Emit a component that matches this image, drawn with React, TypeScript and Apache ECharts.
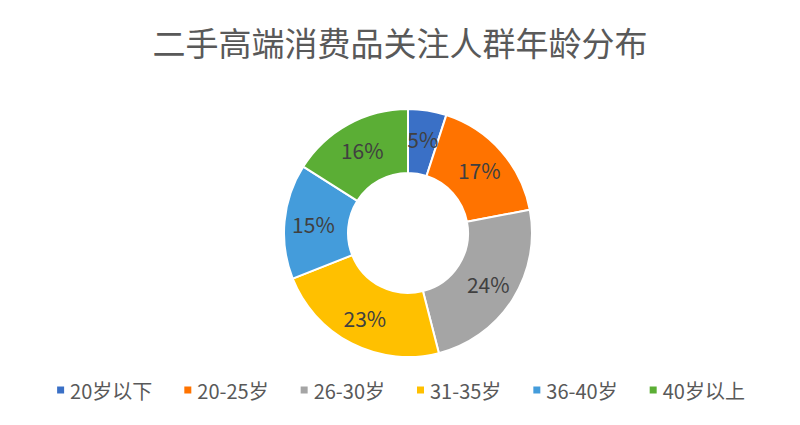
import { useEffect, useRef } from 'react';
import * as echarts from 'echarts';

const categories = ['20岁以下', '20-25岁', '26-30岁', '31-35岁', '36-40岁', '40岁以上'];
const values = [5, 17, 24, 23, 15, 16];
const colors = ['#3A70C6', '#FF7300', '#A5A5A5', '#FFC000', '#449CDB', '#5BAE35'];

export default function App() {
  const chartRef = useRef<HTMLDivElement>(null);

  useEffect(() => {
    if (!chartRef.current) return;
    const chart = echarts.init(chartRef.current, undefined, { renderer: 'svg' });
    const font = '"Noto Sans CJK SC", "Noto Sans", sans-serif';

    chart.setOption({
      animation: false,
      backgroundColor: '#fff',
      color: colors,
      title: {
        text: '二手高端消费品关注人群年龄分布',
        left: 'center',
        top: 12,
        textStyle: { fontSize: 33, fontWeight: 'normal', color: '#595959', fontFamily: font },
      },
      legend: {
        bottom: 12,
        left: 'center',
        icon: 'rect',
        itemWidth: 9,
        itemHeight: 9,
        itemGap: 30,
        textStyle: { fontSize: 20, color: '#595959', fontFamily: font },
        data: categories,
      },
      series: [
        {
          type: 'pie',
          center: [400, 225],
          radius: [60, 124],
          startAngle: 90,
          clockwise: true,
          itemStyle: { borderColor: '#fff', borderWidth: 2 },
          label: {
            position: 'inside',
            formatter: '{c}%',
            fontSize: 21,
            color: '#404040',
            fontFamily: font,
          },
          labelLine: { show: false },
          data: categories.map((name, i) => ({ name, value: values[i] })),
        },
      ],
    });

    return () => chart.dispose();
  }, []);

  return <div ref={chartRef} style={{ width: 784, height: 409 }} />;
}
